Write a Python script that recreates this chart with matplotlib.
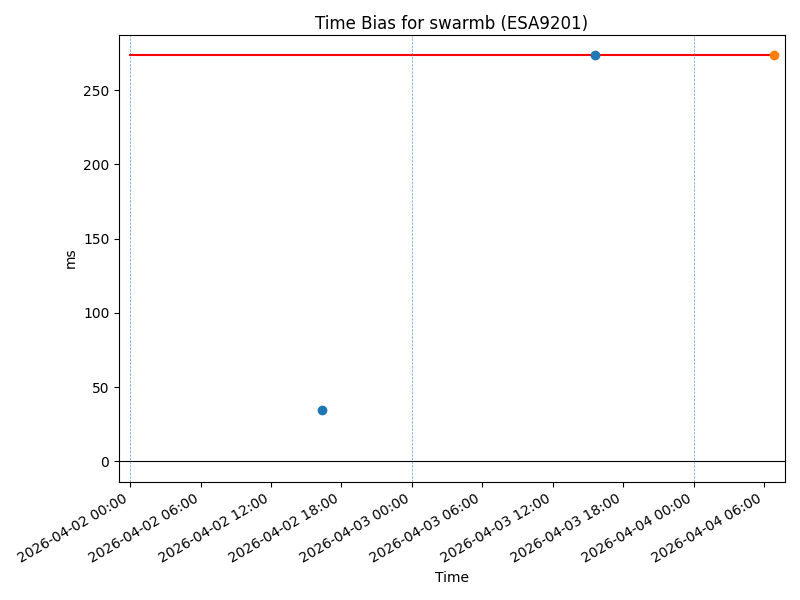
import matplotlib
matplotlib.use("Agg")
import matplotlib.pyplot as plt
import matplotlib.dates as mdates
import pandas as pd

# time bias samples (ms)
times_a = pd.to_datetime(["2026-04-02 16:19", "2026-04-03 15:33"])
bias_a = [34.5, 273.6]
times_b = pd.to_datetime(["2026-04-04 06:50"])
bias_b = [273.6]

# reference level
ref_start = pd.Timestamp("2026-04-02 00:00")
ref_level = 273.6
day_marks = pd.to_datetime(["2026-04-02", "2026-04-03", "2026-04-04"])

fig, ax = plt.subplots(figsize=(8, 6), dpi=100)

ax.plot([ref_start, times_b[-1]], [ref_level, ref_level], color='red', zorder=1)
ax.plot(times_a, bias_a, 'o', linestyle='none', color='tab:blue', zorder=3)
ax.plot(times_b, bias_b, 'o', linestyle='none', color='tab:orange', zorder=3)
ax.axhline(0, color='black', linewidth=0.8)
for d in day_marks:
    ax.axvline(d, color='tab:blue', linestyle='--', linewidth=0.5, alpha=0.7)

ax.xaxis.set_major_locator(mdates.HourLocator(byhour=[0, 6, 12, 18]))
ax.xaxis.set_major_formatter(mdates.DateFormatter('%Y-%m-%d %H:%M'))
ax.margins(x=0.017)

ax.set_title('Time Bias for swarmb (ESA9201)', pad=4.5)
ax.set_xlabel('Time')
ax.set_ylabel('ms')
fig.autofmt_xdate()
fig.tight_layout()
fig.subplots_adjust(top=0.942)
fig.savefig('out.png')
